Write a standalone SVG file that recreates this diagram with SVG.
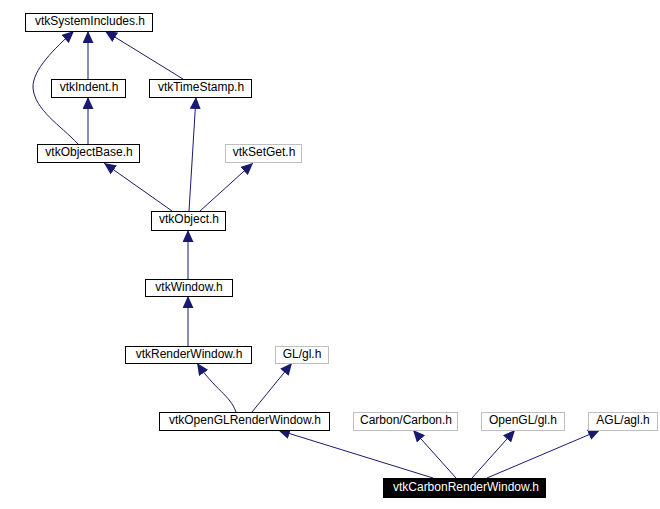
<svg xmlns="http://www.w3.org/2000/svg" width="660" height="509" viewBox="0 0 660 509">
<style>
.n rect{fill:#fff;stroke:#000;stroke-width:1}
.g rect{fill:#fff;stroke:#bfbfbf;stroke-width:1}
.h rect{fill:#000;stroke:#000}
text{font-family:"Liberation Sans",Arial,sans-serif;font-size:12px;text-anchor:middle;fill:#000}
.h text{fill:#fff}
.e path{fill:none;stroke:#191970;stroke-width:1;marker-end:url(#a)}
</style>
<defs>
<marker id="a" markerWidth="13" markerHeight="11" refX="12" refY="5.5" orient="auto" markerUnits="userSpaceOnUse">
<path d="M0,0 L12,5.5 L0,11 Z" fill="#191970"/>
</marker>
</defs>
<rect width="660" height="509" fill="#fff"/>
<g class="e">
<path d="M88,79 L88,31"/>
<path d="M183,79 L105,31"/>
<path d="M78,144 C60,125 35,110 33,88 C32,70 55,48 74,31"/>
<path d="M88,144 L88,97"/>
<path d="M172,211 L104,163"/>
<path d="M189,211 L196,97"/>
<path d="M200,211 L253,163"/>
<path d="M188,279 L188,230"/>
<path d="M188,346 L188,296"/>
<path d="M236,412 C230,395 215,390 197,363"/>
<path d="M252,412 L292,363"/>
<path d="M433,478 L278,430"/>
<path d="M456,478 L413,430"/>
<path d="M472,478 L515,430"/>
<path d="M487,478 L600,430"/>
</g>
<g id="vtkSystemIncludes" class="n"><rect x="25.5" y="13.5" width="127" height="18"/><text x="90" y="25">vtkSystemIncludes.h</text></g>
<g id="vtkIndent" class="n"><rect x="51.5" y="79.5" width="74" height="18"/><text x="89" y="91">vtkIndent.h</text></g>
<g id="vtkTimeStamp" class="n"><rect x="149.5" y="79.5" width="102" height="18"/><text x="201" y="91">vtkTimeStamp.h</text></g>
<g id="vtkObjectBase" class="n"><rect x="37.5" y="144.5" width="102" height="18"/><text x="89" y="156">vtkObjectBase.h</text></g>
<g id="vtkSetGet" class="g"><rect x="225.5" y="144.5" width="76" height="18"/><text x="264" y="156">vtkSetGet.h</text></g>
<g id="vtkObject" class="n"><rect x="151.5" y="211.5" width="74" height="19"/><text x="189" y="223">vtkObject.h</text></g>
<g id="vtkWindow" class="n"><rect x="145.5" y="279.5" width="87" height="17"/><text x="189" y="291">vtkWindow.h</text></g>
<g id="vtkRenderWindow" class="n"><rect x="125.5" y="346.5" width="126" height="17"/><text x="189" y="358">vtkRenderWindow.h</text></g>
<g id="GLgl" class="g"><rect x="275.5" y="346.5" width="53" height="17"/><text x="302" y="358">GL/gl.h</text></g>
<g id="vtkOpenGLRenderWindow" class="n"><rect x="159.5" y="412.5" width="170" height="18"/><text x="245" y="424">vtkOpenGLRenderWindow.h</text></g>
<g id="CarbonCarbon" class="g"><rect x="353.5" y="412.5" width="104" height="18"/><text x="406" y="424">Carbon/Carbon.h</text></g>
<g id="OpenGLgl" class="g"><rect x="481.5" y="412.5" width="83" height="18"/><text x="523" y="424">OpenGL/gl.h</text></g>
<g id="AGLagl" class="g"><rect x="588.5" y="412.5" width="69" height="18"/><text x="623" y="424">AGL/agl.h</text></g>
<g id="vtkCarbonRenderWindow" class="h"><rect x="383.5" y="478.5" width="162" height="19"/><text x="466" y="491">vtkCarbonRenderWindow.h</text></g>
</svg>
